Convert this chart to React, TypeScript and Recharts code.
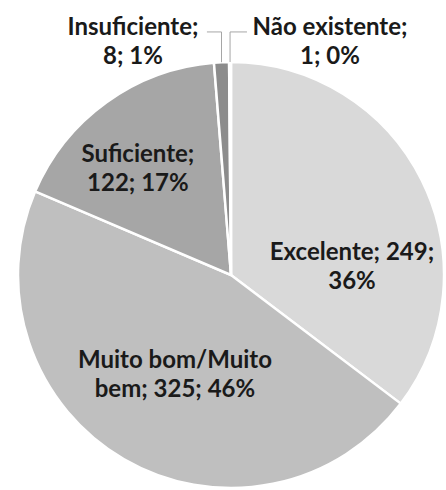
import { PieChart, Pie, Cell } from 'recharts';

const categories = ['Excelente', 'Muito bom/Muito bem', 'Suficiente', 'Insuficiente', 'Não existente'];
const counts = [249, 325, 122, 8, 1];
const percentLabels = ['36%', '46%', '17%', '1%', '0%'];

const colors = ['#d9d9d9', '#bfbfbf', '#a6a6a6', '#8c8c8c', '#7f7f7f'];

// where Excel's "best fit" put each label, relative to the pie centre (units of radius)
const labelSpots = [
  { dx: 0.568, dy: -0.07 },
  { dx: -0.263, dy: 0.437 },
  { dx: -0.437, dy: -0.531 },
  { dx: -0.46, dy: -1.127, leaderX: -0.113 },
  { dx: 0.465, dy: -1.127, leaderX: 0.075 },
];

const data = categories.map((name, i) => ({ name, value: counts[i] }));

const RADIAN = Math.PI / 180;
const FONT = 'Lato, "Open Sans", sans-serif';
const LINE_H = 29;

// break "name; value; pct" into lines of at most maxChars
const wrap = (text: string, maxChars: number) => {
  const words = text.split(' ');
  const lines: string[] = [];
  let cur = '';
  words.forEach(w => {
    const next = cur ? `${cur} ${w}` : w;
    if (next.length > maxChars && cur) {
      lines.push(cur);
      cur = w;
    } else {
      cur = next;
    }
  });
  if (cur) lines.push(cur);
  return lines;
};

const renderLabel = (props: any) => {
  const { cx, cy, outerRadius, midAngle, name } = props;
  const index = props.index ?? categories.indexOf(name);
  const spot = labelSpots[index];
  const x = cx + spot.dx * outerRadius;
  const y = cy + spot.dy * outerRadius;
  const lines = wrap(`${categories[index]}; ${counts[index]}; ${percentLabels[index]}`, 15);

  let leader = null;
  if (spot.leaderX !== undefined) {
    const x0 = cx + outerRadius * Math.cos(-midAngle * RADIAN);
    const y0 = cy + outerRadius * Math.sin(-midAngle * RADIAN);
    const yElbow = y - 3;
    const xEnd = cx + spot.leaderX * outerRadius;
    leader = (
      <polyline
        points={`${x0},${y0} ${x0},${yElbow} ${xEnd},${yElbow}`}
        fill="none"
        stroke="#a6a6a6"
        strokeWidth={1}
      />
    );
  }

  return (
    <g>
      {leader}
      <text
        x={x}
        y={y}
        textAnchor="middle"
        fill="#1a1a1a"
        fontFamily={FONT}
        fontWeight={700}
        fontSize={24}
      >
        {lines.map((l, i) => (
          <tspan key={i} x={x} y={y + i * LINE_H}>
            {l}
          </tspan>
        ))}
      </text>
    </g>
  );
};

export default function App() {
  return (
    <div style={{ position: 'absolute', left: 0, top: 0, width: 446, height: 490, background: '#fff' }}>
      <PieChart width={446} height={490} margin={{ top: 0, right: 0, bottom: 0, left: 0 }}>
        <Pie
          data={data}
          dataKey="value"
          nameKey="name"
          cx={231}
          cy={275}
          outerRadius={213}
          startAngle={90}
          endAngle={-270}
          stroke="#ffffff"
          strokeWidth={2.5}
          label={renderLabel}
          labelLine={false}
          isAnimationActive={false}
        >
          {data.map((entry, index) => (
            <Cell key={`cell-${index}`} fill={colors[index]} />
          ))}
        </Pie>
      </PieChart>
    </div>
  );
}
